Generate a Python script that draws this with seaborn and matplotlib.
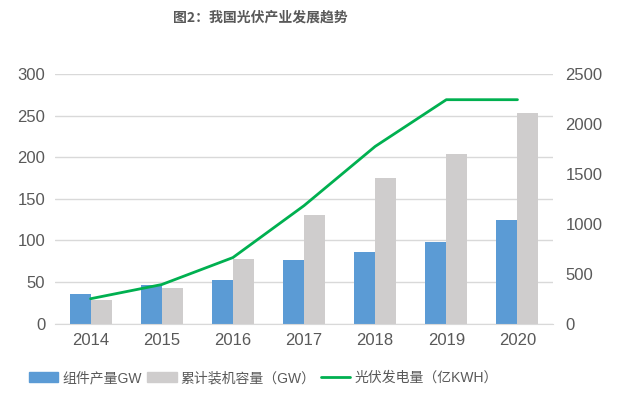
import pandas as pd
import numpy as np
import seaborn as sns
import matplotlib.pyplot as plt
from matplotlib.patches import Patch
from matplotlib.lines import Line2D

sns.set_style("white")
plt.rcParams['font.family'] = ['Liberation Sans', 'Noto Sans CJK SC', 'DejaVu Sans']

# data
years = ['2014', '2015', '2016', '2017', '2018', '2019', '2020']
module_output = [35.6, 46.0, 53.0, 76.0, 85.7, 98.6, 124.6]      # 组件产量GW
installed_cap = [28.1, 43.2, 77.4, 130.3, 174.5, 204.3, 253.0]    # 累计装机容量(GW)
generation = [250, 392, 662, 1182, 1775, 2243, 2243]              # 光伏发电量(亿KWH)

label_a = '组件产量GW'
label_b = '累计装机容量（GW）'
label_c = '光伏发电量（亿KWH）'

c_blue = '#5B9BD5'
c_grey = '#CFCDCD'
c_green = '#00B050'
txt = '#595959'

df = pd.DataFrame({'year': years * 2,
                   'value': module_output + installed_cap,
                   'series': [label_a] * 7 + [label_b] * 7})

fig = plt.figure(figsize=(6.2, 3.98), dpi=100)
ax = fig.add_axes([0.0887, 0.1867, 0.8033, 0.6273])

sns.barplot(data=df, x='year', y='value', hue='series',
            palette=[c_blue, c_grey], width=0.59, gap=0,
            saturation=1, linewidth=0, ax=ax, legend=False)
ax.set_ylim(0, 300)
ax.set_yticks(range(0, 301, 50))
ax.yaxis.grid(True, color='#D9D9D9', linewidth=1)
ax.set_axisbelow(True)
ax.set_xlabel('')
ax.set_ylabel('')
ax.set_xlim(-0.5, 6.5)
for s in ['left', 'right', 'top']:
    ax.spines[s].set_visible(False)
ax.spines['bottom'].set_color('#D9D9D9')
ax.tick_params(axis='both', length=0, labelsize=12, labelcolor=txt, pad=7)

ax2 = ax.twinx()
sns.lineplot(x=np.arange(len(years)), y=generation, color=c_green,
             linewidth=2.0, ax=ax2)
ax2.set_ylim(0, 2500)
ax2.set_yticks(range(0, 2501, 500))
ax2.set_xlim(-0.5, 6.5)
for s in ['left', 'right', 'top', 'bottom']:
    ax2.spines[s].set_visible(False)
ax2.tick_params(axis='y', length=0, labelsize=12, labelcolor=txt, pad=9)

fig.text(0.42, 0.955, '图2：我国光伏产业发展趋势', ha='center', va='center',
         fontsize=10, fontweight='bold', color=txt,
         family=['Noto Sans CJK SC', 'DejaVu Sans'])

handles = [Patch(color=c_blue), Patch(color=c_grey),
           Line2D([0], [0], color=c_green, linewidth=2.0)]
fig.legend(handles, [label_a, label_b, label_c], loc='center',
           bbox_to_anchor=(0.425, 0.05), ncol=3, frameon=False,
           fontsize=10, labelcolor=txt, handlelength=2.1,
           handleheight=0.7, handletextpad=0.3, columnspacing=0.4)

plt.savefig('out.png', dpi=100)
